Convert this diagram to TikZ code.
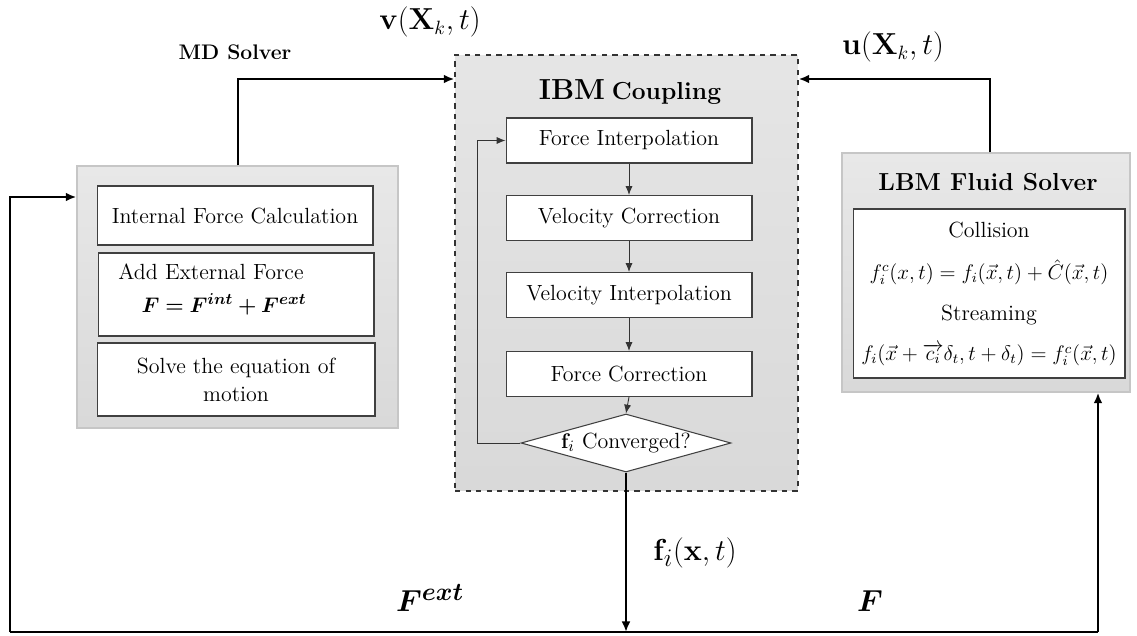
\documentclass[tikz,border=0pt]{standalone}
\usepackage{amsmath}
\usepackage{bm}
\usetikzlibrary{shapes.geometric,arrows.meta}
\begin{document}
\begin{tikzpicture}[x=0.02cm,y=-0.02cm,
  outerbox/.style={draw=gray!45,line width=0.8pt,top color=gray!18,bottom color=gray!30},
  whitebox/.style={draw=black!75,line width=0.6pt,fill=white,align=center,font=\fontsize{12.5}{16}\selectfont,inner sep=2pt},
  thin arrow/.style={draw=black!80,line width=0.5pt,-{Latex[length=5pt,width=4pt]}},
  main line/.style={draw=black,line width=1.3pt},
  main arrow/.style={draw=black,line width=1.3pt,-{Latex[length=6pt,width=5pt]}},
  lbl/.style={inner sep=0pt}]
\useasboundingbox (0,0) rectangle (1137,636);
% MD solver
\node[outerbox,minimum width=6.42cm,minimum height=5.24cm] (MD) at (237.5,297) {};
\node[whitebox,minimum width=5.52cm,minimum height=1.18cm] (IF) at (235,215.5) {Internal Force Calculation};
\node[whitebox,minimum width=5.52cm,minimum height=1.66cm] (AF) at (236,294.5) {};
\node[lbl,font=\fontsize{12.5}{16}\selectfont] (AFt) at (211,272) {Add External Force};
\node[lbl,font=\fontsize{13}{15}\selectfont] (AFm) at (224,304) {$\bm{F = F^{int}+ F^{ext}}$};
\node[whitebox,minimum width=5.56cm,minimum height=1.46cm] (SE) at (236,379.5) {Solve the equation of\\motion};
\node[lbl,font=\fontsize{12}{14}\selectfont\bfseries] (MDt) at (235,52) {MD Solver};
% IBM coupling
\node[draw=black!80,dashed,line width=0.8pt,top color=gray!20,bottom color=gray!30,minimum width=6.86cm,minimum height=8.72cm] (IBM) at (626.5,273) {};
\node[lbl,font=\bfseries] (IBMt) at (630,92) {{\fontsize{16.5}{18}\selectfont IBM} {\fontsize{14}{16}\selectfont Coupling}};
\node[whitebox,minimum width=4.92cm,minimum height=0.9cm] (FI) at (629,140.5) {Force Interpolation};
\node[whitebox,minimum width=4.92cm,minimum height=0.9cm] (VC) at (629,218) {Velocity Correction};
\node[whitebox,minimum width=4.92cm,minimum height=0.9cm] (VI) at (629,295) {Velocity Interpolation};
\node[whitebox,minimum width=4.92cm,minimum height=0.9cm] (FC) at (629,374) {Force Correction};
\node[diamond,draw=black!75,line width=0.6pt,fill=white,aspect=3.6,minimum width=4.2cm,minimum height=1.16cm,inner sep=0pt,font=\fontsize{12.5}{15}\selectfont] (CV) at (626,443) {$\mathbf{f}_i$ Converged?};
\draw[thin arrow] (FI.south) -- (VC.north);
\draw[thin arrow] (VC.south) -- (VI.north);
\draw[thin arrow] (VI.south) -- (FC.north);
\draw[thin arrow] (FC.south) -- (CV.north);
\draw[thin arrow] (CV.west) -- (477,443) |- (FI.west);
% LBM
\node[outerbox,minimum width=5.76cm,minimum height=4.78cm] (LBM) at (986,272.5) {};
\node[lbl,font=\fontsize{14}{16}\selectfont\bfseries] (LBMt) at (988,182) {LBM Fluid Solver};
\node[whitebox,minimum width=5.44cm,minimum height=3.38cm] (LBi) at (989,293.5) {};
\node[lbl,font=\fontsize{12.5}{15}\selectfont] (col) at (989,230) {Collision};
\node[lbl,font=\fontsize{11.5}{14}\selectfont] (colf) at (989,272) {$f_i^c(x,t) = f_i(\vec{x},t) + \hat{C}(\vec{x},t)$};
\node[lbl,font=\fontsize{12.5}{15}\selectfont] (str) at (989,315) {Streaming};
\node[lbl,font=\fontsize{11.5}{14}\selectfont] (strf) at (989,355) {$f_i(\vec{x} + \overrightarrow{c_i}\delta_t, t + \delta_t) = f_i^c(\vec{x},t)$};
% coordinates
\coordinate (bl) at (10,632);
\coordinate (bm) at (626,632);
\coordinate (br) at (1098,632);
\coordinate (mdin) at (77,197);
% connectors
\draw[main arrow] (MD.north -| 238,0) |- (IBM.west |- 0,79);
\draw[main arrow] (LBM.north -| 990,0) |- (IBM.east |- 0,79);
\draw[main arrow] (CV.south) -- (bm);
\draw[main line] (bl) -- (br);
\draw[main arrow] (bl) |- (MD.west |- mdin);
\draw[main arrow] (br) -- (LBM.south -| br);
% labels
\node[lbl,font=\fontsize{16}{18}\selectfont] (vX) at (430,22) {$\mathbf{v}(\mathbf{X}_k,t)$};
\node[lbl,font=\fontsize{16}{18}\selectfont] (uX) at (893,47) {$\mathbf{u}(\mathbf{X}_k,t)$};
\node[lbl,font=\fontsize{19}{22}\selectfont] (fx) at (695,553) {$\mathbf{f}_i(\mathbf{x},t)$};
\node[lbl,font=\fontsize{19}{22}\selectfont] (Fe) at (430,598) {$\bm{F^{ext}}$};
\node[lbl,font=\fontsize{19}{22}\selectfont] (Ff) at (870,601) {$\bm{F}$};
\end{tikzpicture}
\end{document}
